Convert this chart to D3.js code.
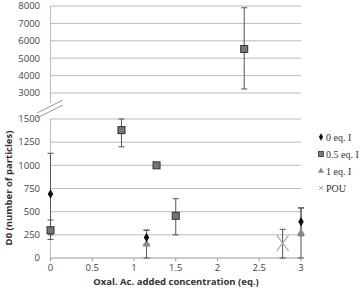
<!DOCTYPE html>
<html>
<head>
<meta charset="utf-8">
<script src="https://cdnjs.cloudflare.com/ajax/libs/d3/7.8.5/d3.min.js"></script>
<style>
  body { margin: 0; background: #fff; }
  svg { display: block; }
  .tick-lbl { font-family: "Open Sans", "DejaVu Sans", sans-serif; font-size: 9.5px; fill: #444; }
  .ttl { font-family: "Open Sans", sans-serif; font-size: 9.5px; font-weight: bold; fill: #333; }
  .leg { font-family: "Liberation Serif", serif; font-size: 10px; fill: #333; }
</style>
</head>
<body>
<div id="chart"></div>
<script>
// series: x = added oxalic acid (eq.), y = D0, lo/hi = error bar ends
const s0x = [0, 1.15, 3];
const s0y = [690, 220, 390];
const s0lo = [250, 150, 240];
const s0hi = [1130, 300, 540];

const s05x = [0, 0.85, 1.27, 1.5, 2.32];
const s05y = [300, 1380, 1000, 455, 5530];
const s05lo = [200, 1200, 1000, 250, 3230];
const s05hi = [410, 1500, 1000, 640, 7900];

const s1x = [1.15, 3];
const s1y = [150, 270];
const s1lo = [0, 0];
const s1hi = [300, 540];

const pouX = [2.78];
const pouY = [160];
const pouLo = [0];
const pouHi = [310];

const xTicks = [0, 0.5, 1, 1.5, 2, 2.5, 3];
const yTopTicks = [3000, 4000, 5000, 6000, 7000, 8000];
const yBotTicks = [0, 250, 500, 750, 1000, 1250, 1500];
const legendNames = ['0 eq. I', '0.5 eq. I', '1 eq. I', 'POU'];

const W = 361, H = 288;
const svg = d3.select('#chart').append('svg').attr('width', W).attr('height', H);

const x = d3.scaleLinear().domain([0, 3]).range([50.5, 301]);
const yTop = d3.scaleLinear().domain([3000, 8000]).range([93, 6]);
const yBot = d3.scaleLinear().domain([0, 1500]).range([258, 119]);
const yOf = v => v > 1500 ? yTop(v) : yBot(v);

// gridlines
const grid = svg.append('g');
yTopTicks.forEach(t => grid.append('line')
  .attr('x1', x(0)).attr('x2', x(3)).attr('y1', yTop(t)).attr('y2', yTop(t))
  .attr('stroke', '#bbb').attr('stroke-width', 1));
yBotTicks.forEach(t => grid.append('line')
  .attr('x1', x(0)).attr('x2', x(3)).attr('y1', yBot(t)).attr('y2', yBot(t))
  .attr('stroke', t === 0 ? '#999' : '#bbb').attr('stroke-width', 1));

// y axes (two panels)
svg.append('line').attr('x1', x(0)).attr('x2', x(0)).attr('y1', yTop(8000)).attr('y2', 103)
  .attr('stroke', '#bbb');
svg.append('line').attr('x1', x(0)).attr('x2', x(0)).attr('y1', yBot(1500)).attr('y2', yBot(0))
  .attr('stroke', '#bbb');

// axis break marks
[0, 5].forEach(d => svg.append('line')
  .attr('x1', 37).attr('y1', 113 + d).attr('x2', 63).attr('y2', 100 + d)
  .attr('stroke', '#999').attr('stroke-width', 1));

// tick labels
yTopTicks.forEach(t => svg.append('text').attr('class', 'tick-lbl')
  .attr('x', 40).attr('y', yTop(t)).attr('dy', '0.35em').attr('text-anchor', 'end').text(t));
yBotTicks.forEach(t => svg.append('text').attr('class', 'tick-lbl')
  .attr('x', 40).attr('y', yBot(t)).attr('dy', '0.35em').attr('text-anchor', 'end').text(t));
xTicks.forEach(t => {
  svg.append('line').attr('x1', x(t)).attr('x2', x(t)).attr('y1', yBot(0)).attr('y2', yBot(0) + 3)
    .attr('stroke', '#999');
  svg.append('text').attr('class', 'tick-lbl')
    .attr('x', x(t)).attr('y', 268).attr('dy', '0.35em').attr('text-anchor', 'middle').text(t);
});

// titles
svg.append('text').attr('class', 'ttl')
  .attr('transform', 'translate(12,' + 188 + ') rotate(-90)')
  .attr('text-anchor', 'middle').text('D0 (number of particles)');
svg.append('text').attr('class', 'ttl')
  .attr('x', 176).attr('y', 285).attr('text-anchor', 'middle')
  .text('Oxal. Ac. added concentration (eq.)');

// error bars
function errBars(xs, lo, hi) {
  xs.forEach((v, i) => {
    if (lo[i] === hi[i]) return;
    const cx = x(v);
    svg.append('line').attr('x1', cx).attr('x2', cx).attr('y1', yOf(lo[i])).attr('y2', yOf(hi[i]))
      .attr('stroke', '#555').attr('stroke-width', 1);
    [lo[i], hi[i]].forEach(e => svg.append('line')
      .attr('x1', cx - 3).attr('x2', cx + 3).attr('y1', yOf(e)).attr('y2', yOf(e))
      .attr('stroke', '#555').attr('stroke-width', 1));
  });
}
errBars(s0x, s0lo, s0hi);
errBars(s05x, s05lo, s05hi);
errBars(s1x, s1lo, s1hi);
errBars(pouX, pouLo, pouHi);

// markers
const sym = (type, size) => d3.symbol().type(type).size(size)();
function markers(xs, ys, draw) {
  xs.forEach((v, i) => draw(svg.append('g').attr('transform', `translate(${x(v)},${yOf(ys[i])})`)));
}
const drawSquare = g => g.append('rect').attr('x', -3.5).attr('y', -3.5).attr('width', 7).attr('height', 7)
  .attr('fill', '#777').attr('stroke', '#333').attr('stroke-width', 1);
const drawDiamond = g => g.append('path').attr('d', sym(d3.symbolDiamond, 26)).attr('fill', '#111');
const drawTri = g => g.append('path').attr('d', sym(d3.symbolTriangle, 30)).attr('fill', '#888');
const drawX = g => g.append('path').attr('d', 'M-6,-8L6,8M6,-8L-6,8')
  .attr('stroke', '#aaa').attr('stroke-width', 1.2).attr('fill', 'none');

markers(s05x, s05y, drawSquare);
markers(s1x, s1y, drawTri);
markers(s0x, s0y, drawDiamond);
markers(pouX, pouY, drawX);

// legend
const legY = [137, 154, 171, 188];
const legDraw = [
  g => g.append('path').attr('d', sym(d3.symbolDiamond, 16)).attr('fill', '#111'),
  g => g.append('rect').attr('x', -2.5).attr('y', -2.5).attr('width', 5).attr('height', 5)
    .attr('fill', '#777').attr('stroke', '#333').attr('stroke-width', 0.8),
  g => g.append('path').attr('d', sym(d3.symbolTriangle, 16)).attr('fill', '#888'),
  g => g.append('path').attr('d', 'M-2,-2L2,2M2,-2L-2,2').attr('stroke', '#aaa').attr('stroke-width', 1)
];
legendNames.forEach((n, i) => {
  legDraw[i](svg.append('g').attr('transform', `translate(321,${legY[i]})`));
  svg.append('text').attr('class', 'leg').attr('x', 326).attr('y', legY[i]).attr('dy', '0.35em').text(n);
});
</script>
</body>
</html>
